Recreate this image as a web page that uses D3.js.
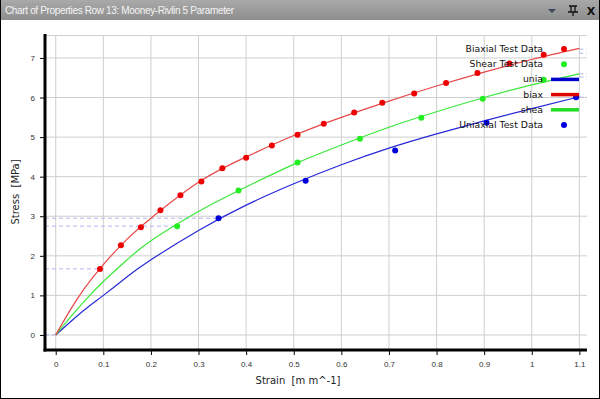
<!DOCTYPE html>
<html>
<head>
<meta charset="utf-8">
<script src="https://cdn.jsdelivr.net/npm/d3@7"></script>
<style>
  body { margin: 0; background: #fff; }
  svg { display: block; font-family: "DejaVu Sans", sans-serif; }
  .tick-label { font-size: 8px; fill: #333; }
  .axis-title { font-size: 10px; fill: #222; }
  .legend-text { font-size: 9.3px; fill: #111; }
</style>
</head>
<body>
<div id="chart"></div>
<script>
// ── Data ─────────────────────────────────────────────
const biaxTestX = [0.093, 0.137, 0.179, 0.22, 0.262, 0.306, 0.35, 0.40, 0.454, 0.508, 0.563, 0.627, 0.686, 0.753, 0.82, 0.886, 0.953, 1.025];
const biaxTestY = [1.67, 2.27, 2.72, 3.15, 3.53, 3.88, 4.21, 4.48, 4.79, 5.06, 5.34, 5.62, 5.87, 6.10, 6.37, 6.62, 6.86, 7.08];
const shearTestX = [0.255, 0.384, 0.508, 0.639, 0.768, 0.897, 1.025];
const shearTestY = [2.75, 3.65, 4.36, 4.96, 5.49, 5.97, 6.45];
const uniaTestX = [0.342, 0.525, 0.713, 0.905, 1.093];
const uniaTestY = [2.95, 3.90, 4.66, 5.36, 6.01];

// fitted curves
const fitX = [0, 0.03, 0.06, 0.1, 0.15, 0.2, 0.3, 0.4, 0.5, 0.6, 0.7, 0.8, 0.9, 1.0, 1.1];
const biaxFitY = [0, 0.62, 1.17, 1.78, 2.42, 2.95, 3.86, 4.5, 5.04, 5.5, 5.91, 6.29, 6.64, 6.96, 7.24];
const shearFitY = [0, 0.44, 0.85, 1.35, 1.9, 2.38, 3.12, 3.74, 4.31, 4.8, 5.25, 5.64, 6.0, 6.32, 6.6];
const uniaFitY = [0, 0.32, 0.63, 1.0, 1.47, 1.9, 2.64, 3.28, 3.82, 4.3, 4.72, 5.08, 5.41, 5.72, 6.02];

const xTicks = [0, 0.1, 0.2, 0.3, 0.4, 0.5, 0.6, 0.7, 0.8, 0.9, 1, 1.1];
const yTicks = [0, 1, 2, 3, 4, 5, 6, 7];

// dashed reference levels (left: to first point, right: from curve end)
const leftRefY = [0, 1.67, 2.75, 2.95];
const leftRefX = [0, 0.093, 0.255, 0.342];
const rightRefY = [7.22, 7.12, 6.6, 6.52, 6.01];

const legendLabels = ["Biaxial Test Data", "Shear Test Data", "unia", "biax", "shea", "Uniaxial Test Data"];
const legendKinds = ["dot", "dot", "line", "line", "line", "dot"];
const legendColors = ["#ee0000", "#22ee22", "#0000cc", "#e00000", "#22dd22", "#0000dd"];

// ── Layout ───────────────────────────────────────────
const width = 600, height = 399;
const margin = { top: 35, right: 13, bottom: 49, left: 45 };
const innerWidth = width - margin.left - margin.right;
const innerHeight = height - margin.top - margin.bottom;

const svg = d3.select("#chart").append("svg")
    .attr("width", width)
    .attr("height", height);

// window frame + title bar
const grad = svg.append("defs").append("linearGradient")
    .attr("id", "titleGrad").attr("x1", 0).attr("y1", 0).attr("x2", 0).attr("y2", 1);
grad.append("stop").attr("offset", "0%").attr("stop-color", "#a9a9a9");
grad.append("stop").attr("offset", "100%").attr("stop-color", "#8e8e8e");

svg.append("rect").attr("x", 0.5).attr("y", 0.5).attr("width", width - 1).attr("height", height - 1)
    .attr("fill", "#fff").attr("stroke", "#000");
svg.append("rect").attr("x", 1).attr("y", 0).attr("width", width - 2).attr("height", 20)
    .attr("fill", "url(#titleGrad)");
svg.append("text")
    .text("Chart of Properties Row 13: Mooney-Rivlin 5 Parameter")
    .attr("x", 5).attr("y", 14)
    .style("font-family", "'Liberation Sans', sans-serif")
    .style("font-size", "10px")
    .style("letter-spacing", "-0.35px")
    .attr("fill", "#f4f4f4");

// title bar buttons
svg.append("path").attr("d", "M548,9 L556,9 L552,13 Z").attr("fill", "#3a4660");
svg.append("path").attr("d", "M569,6 L577,6 M571,6 L571,12 M575,6 L575,12 M568,12 L578,12 M573,12 L573,16")
    .attr("stroke", "#111").attr("stroke-width", 1.3).attr("fill", "none");
svg.append("text").text("X").attr("x", 591).attr("y", 15)
    .attr("text-anchor", "middle")
    .style("font-size", "11px").style("font-weight", "bold").attr("fill", "#111");

const innerChart = svg.append("g")
    .attr("transform", `translate(${margin.left},${margin.top})`);

// ── Scales ───────────────────────────────────────────
const xScale = d3.scaleLinear().domain([-0.0225, 1.116]).range([0, innerWidth]);
const yScale = d3.scaleLinear().domain([-0.38, 7.58]).range([innerHeight, 0]);

// grid
innerChart.selectAll(".vgrid")
    .data(xTicks)
    .join("line")
    .attr("x1", d => xScale(d)).attr("x2", d => xScale(d))
    .attr("y1", 0).attr("y2", innerHeight)
    .attr("stroke", "#cfcfcf").attr("stroke-width", 1);

innerChart.selectAll(".hgrid")
    .data(yTicks)
    .join("line")
    .attr("x1", 0).attr("x2", innerWidth)
    .attr("y1", d => yScale(d)).attr("y2", d => yScale(d))
    .attr("stroke", "#cfcfcf").attr("stroke-width", 1);

innerChart.append("line")
    .attr("x1", 0).attr("x2", innerWidth).attr("y1", 0.5).attr("y2", 0.5)
    .attr("stroke", "#cfcfcf");

// dashed reference lines
const refColor = "#b4b4ee";
innerChart.selectAll(".lref")
    .data(leftRefY)
    .join("line")
    .attr("x1", 0).attr("x2", (d, i) => xScale(leftRefX[i]))
    .attr("y1", d => yScale(d)).attr("y2", d => yScale(d))
    .attr("stroke", refColor).attr("stroke-dasharray", "4,3").attr("stroke-width", 1);

innerChart.selectAll(".rref")
    .data(rightRefY)
    .join("line")
    .attr("x1", xScale(1.1)).attr("x2", innerWidth)
    .attr("y1", d => yScale(d)).attr("y2", d => yScale(d))
    .attr("stroke", refColor).attr("stroke-dasharray", "4,3").attr("stroke-width", 1);

// fitted curves
const fitLine = d3.line()
    .x(d => xScale(d[0]))
    .y(d => yScale(d[1]))
    .curve(d3.curveNatural);

const fits = [
    { ys: uniaFitY, color: "#2828d8" },
    { ys: shearFitY, color: "#3ae83a" },
    { ys: biaxFitY, color: "#e84848" }
];
fits.forEach(f => {
    innerChart.append("path")
        .datum(fitX.map((x, i) => [x, f.ys[i]]))
        .attr("d", fitLine)
        .attr("fill", "none")
        .attr("stroke", f.color)
        .attr("stroke-width", 1.2);
});

// test data markers
const tests = [
    { xs: biaxTestX, ys: biaxTestY, color: "#ee0000" },
    { xs: shearTestX, ys: shearTestY, color: "#22ee22" },
    { xs: uniaTestX, ys: uniaTestY, color: "#0000dd" }
];
tests.forEach(t => {
    innerChart.selectAll(null)
        .data(t.xs.map((x, i) => [x, t.ys[i]]))
        .join("circle")
        .attr("cx", d => xScale(d[0]))
        .attr("cy", d => yScale(d[1]))
        .attr("r", 3)
        .attr("fill", t.color);
});

// ── Axes ─────────────────────────────────────────────
const bottomAxis = d3.axisBottom(xScale).tickValues(xTicks).tickSize(5).tickFormat(d3.format("~g"));
const bottomG = innerChart.append("g")
    .attr("transform", `translate(0,${innerHeight})`)
    .call(bottomAxis);
bottomG.select(".domain").remove();
bottomG.selectAll(".tick line").attr("stroke", "#000");
bottomG.selectAll(".tick text").attr("class", "tick-label").attr("y", 11).attr("font-size", null).attr("font-family", null);

const leftAxis = d3.axisLeft(yScale).tickValues(yTicks).tickSize(5);
const leftG = innerChart.append("g").call(leftAxis);
leftG.select(".domain").remove();
leftG.selectAll(".tick line").attr("stroke", "#000");
leftG.selectAll(".tick text").attr("class", "tick-label").attr("x", -10).attr("font-size", null).attr("font-family", null);

// thick axis lines
innerChart.append("line")
    .attr("x1", 0).attr("x2", 0).attr("y1", -1).attr("y2", innerHeight + 1.5)
    .attr("stroke", "#000").attr("stroke-width", 3);
innerChart.append("line")
    .attr("x1", -1.5).attr("x2", innerWidth).attr("y1", innerHeight).attr("y2", innerHeight)
    .attr("stroke", "#000").attr("stroke-width", 3);

svg.append("text")
    .text("Strain  [m m^-1]")
    .attr("class", "axis-title")
    .attr("text-anchor", "middle")
    .attr("x", 298).attr("y", 384)
    .attr("xml:space", "preserve");

svg.append("text")
    .text("Stress  [MPa]")
    .attr("class", "axis-title")
    .attr("text-anchor", "middle")
    .attr("transform", "translate(19,192) rotate(-90)")
    .attr("xml:space", "preserve");

// ── Legend ───────────────────────────────────────────
const legend = svg.append("g").attr("transform", "translate(543,52)");
legendLabels.forEach((label, i) => {
    const row = legend.append("g").attr("transform", `translate(0,${i * 15.2})`);
    row.append("text").text(label).attr("class", "legend-text").attr("text-anchor", "end");
    if (legendKinds[i] === "line") {
        row.append("line").attr("x1", 8).attr("x2", 36).attr("y1", -3).attr("y2", -3)
            .attr("stroke", legendColors[i]).attr("stroke-width", 3.5);
    } else {
        row.append("circle").attr("cx", 21).attr("cy", -3).attr("r", 3)
            .attr("fill", legendColors[i]);
    }
});
</script>
</body>
</html>
